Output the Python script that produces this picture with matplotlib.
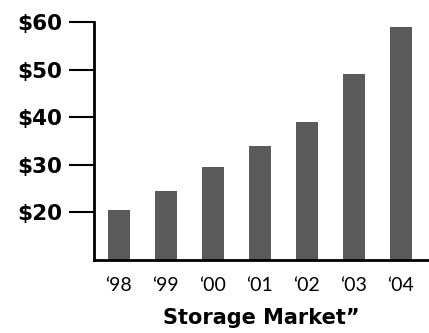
import matplotlib.pyplot as plt

YEARS = ["\u201898", "\u201899", "\u201800", "\u201801", "\u201802", "\u201803", "\u201804"]
MARKET = [20.5, 24.5, 29.5, 34, 39, 49, 59]
Y_TICKS = [20, 30, 40, 50, 60]
Y_LABELS = ["$20", "$30", "$40", "$50", "$60"]
TITLE = "Storage Market\u201d"


def main() -> None:
    fig = plt.figure(figsize=(4.29, 3.33), dpi=100)
    ax = fig.add_axes([0.219, 0.219, 0.781, 0.715])

    x = range(len(YEARS))
    ax.bar(x, MARKET, width=0.47, color="#5a5a5a", zorder=2)

    ax.set_ylim(10, 60)
    ax.set_xlim(-0.53, 6.6)
    ax.set_yticks(Y_TICKS, labels=Y_LABELS, fontsize=15.5, fontweight="bold")
    ax.set_xticks(list(x), labels=YEARS, fontsize=14, family="Lato")
    ax.tick_params(axis="y", length=18, width=1.5, pad=5)
    ax.tick_params(axis="x", length=0, pad=12)

    for side in ("top", "right"):
        ax.spines[side].set_visible(False)
    for side in ("left", "bottom"):
        ax.spines[side].set_linewidth(2)

    ax.set_xlabel(TITLE, fontsize=15, fontweight="bold", labelpad=10)

    fig.savefig("out.png", dpi=100)


if __name__ == "__main__":
    main()
